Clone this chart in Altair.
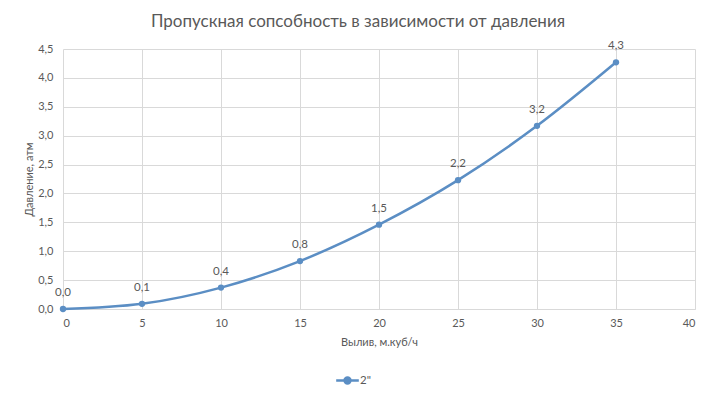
import altair as alt
import pandas as pd

flow = [0, 5, 10, 15, 20, 25, 30, 35]
pressure = [0.0, 0.09, 0.37, 0.83, 1.46, 2.23, 3.17, 4.27]
labels = ["0,0", "0,1", "0,4", "0,8", "1,5", "2,2", "3,2", "4,3"]
series = '2"'
y_ticks = [0.0, 0.5, 1.0, 1.5, 2.0, 2.5, 3.0, 3.5, 4.0, 4.5]
x_ticks = [0, 5, 10, 15, 20, 25, 30, 35, 40]

df = pd.DataFrame({"x": flow, "y": pressure, "lab": labels, "s": [series] * len(flow)})

COL = "#5b8ec4"
TXT = "#595959"
FONT = "Lato"

xenc = alt.X("x:Q", scale=alt.Scale(domain=[0, 40], nice=False),
             axis=alt.Axis(values=x_ticks, title="Вылив, м.куб/ч", labelOverlap=False))
yenc = alt.Y("y:Q", scale=alt.Scale(domain=[0, 4.5], nice=False),
             axis=alt.Axis(values=y_ticks, labelOverlap=False, tickCount=10,
                           labelExpr="replace(format(datum.value, '.1f'), '.', ',')",
                           title="Давление, атм"))
colenc = alt.Color("s:N", scale=alt.Scale(range=[COL]),
                   legend=alt.Legend(title=None, orient="none", legendX=276, legendY=323,
                                     direction="horizontal",
                                     symbolType="M-1.6,0L1.6,0M0.42,0A0.42,0.42,0,1,1,-0.42,0A0.42,0.42,0,1,1,0.42,0Z",
                                     symbolSize=200, symbolStrokeWidth=2.5,
                                     symbolFillColor=COL, labelFontSize=11.5,
                                     labelColor=TXT, labelFont=FONT))

line = alt.Chart(df).mark_line(interpolate="monotone", strokeWidth=2.5).encode(
    x=xenc, y=yenc, color=colenc)
pts = alt.Chart(df).mark_circle(size=40, opacity=1, color=COL).encode(x=xenc, y=yenc)
txt = alt.Chart(df).mark_text(dy=-16, fontSize=11.5, color=TXT, font=FONT).encode(
    x=xenc, y=yenc, text="lab:N")

chart = alt.layer(line, pts, txt).properties(
    width=632, height=260,
    title=alt.TitleParams("Пропускная сопсобность в зависимости от давления",
                          fontSize=17, font=FONT, color=TXT, fontWeight="normal",
                          offset=9, dx=-21),
    autosize=alt.AutoSizeParams(type="none"),
    padding={"left": 55, "top": 41, "right": 13, "bottom": 82},
).configure_view(stroke=None).configure_axis(
    gridColor="#d9d9d9", domainColor="#d9d9d9", ticks=False, labelFont=FONT,
    labelFontSize=11, labelColor=TXT, titleFont=FONT, titleFontSize=11,
    titleColor=TXT, titleFontWeight="normal",
).configure_axisX(labelPadding=8, titlePadding=8, domain=True
).configure_axisY(labelPadding=10, titlePadding=3, domain=False)

chart.save("out.html", embed_options={"renderer": "svg", "actions": False})
